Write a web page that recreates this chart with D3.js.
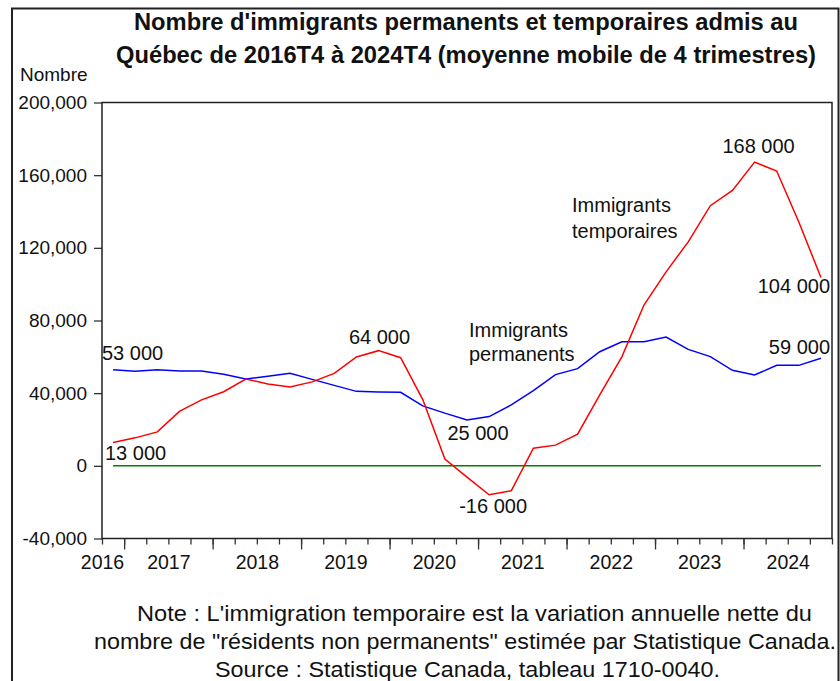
<!DOCTYPE html>
<html>
<head>
<meta charset="utf-8">
<script src="https://cdn.jsdelivr.net/npm/d3@7/dist/d3.min.js"></script>
<style>
  html, body { margin: 0; padding: 0; background: #fff; }
  svg { display: block; font-family: Arial, "Liberation Sans", sans-serif; }
</style>
</head>
<body>
<svg id="chart" width="840" height="681"></svg>
<script>
// ---------- DATA ----------
const quarters = [
  "2016T4",
  "2017T1","2017T2","2017T3","2017T4",
  "2018T1","2018T2","2018T3","2018T4",
  "2019T1","2019T2","2019T3","2019T4",
  "2020T1","2020T2","2020T3","2020T4",
  "2021T1","2021T2","2021T3","2021T4",
  "2022T1","2022T2","2022T3","2022T4",
  "2023T1","2023T2","2023T3","2023T4",
  "2024T1","2024T2","2024T3","2024T4"
];
const permanents = [52900, 52000, 52900, 52200, 52200, 50400, 47800, 49300, 50900, 47600, 44300, 41000, 40700, 40500, 33000, 29000, 25300, 27100, 33500, 41400, 50200, 53500, 62800, 68300, 68300, 70900, 64100, 60100, 52600, 50000, 55300, 55300, 59200];
const temporaires = [12800, 15400, 18700, 30000, 36300, 40800, 47800, 45100, 43400, 46200, 50900, 59900, 63400, 59500, 36500, 3700, -6200, -15900, -13700, 9700, 11400, 17400, 39000, 60000, 88500, 106800, 123300, 143200, 151600, 167200, 162300, 134200, 103700];
const yTicks = [-40000, 0, 40000, 80000, 120000, 160000, 200000];
const yearLabels = ["2016","2017","2018","2019","2020","2021","2022","2023","2024"];
const titleLines = [
  "Nombre d'immigrants permanents et temporaires admis au",
  "Québec de 2016T4 à 2024T4 (moyenne mobile de 4 trimestres)"
];
const yAxisTitle = "Nombre";
const noteLines = [
  "Note : L'immigration temporaire est la variation annuelle nette du",
  "nombre de \"résidents non permanents\" estimée par Statistique Canada.",
  "Source : Statistique Canada, tableau 1710-0040."
];
const valueLabels = ["53 000", "13 000", "64 000", "25 000", "-16 000", "168 000", "104 000", "59 000"];
const seriesNames = [["Immigrants", "permanents"], ["Immigrants", "temporaires"]];

// ---------- LAYOUT ----------
const svg = d3.select("#chart");
const L = 102, R = 832, T = 102.5, B = 538.5;

const x = d3.scalePoint().domain(quarters).range([L, R]).padding(0.5);
const xb = d3.scaleLinear().domain([0, quarters.length]).range([L, R]); // quarter boundaries
const y = d3.scaleLinear().domain([-40000, 200000]).range([B, T]);

const fmt = v => d3.format(",")(v).replace("\u2212", "-");

// outer frame
svg.append("path")
  .attr("d", "M12,690 L12,8.5 L838.5,8.5 L838.5,690")
  .attr("fill", "none").attr("stroke", "#222").attr("stroke-width", 2);

// titles
titleLines.forEach((t, i) => {
  svg.append("text")
    .attr("x", 466).attr("y", [30, 63][i])
    .attr("text-anchor", "middle")
    .attr("font-weight", "bold").attr("font-size", 23)
    .attr("textLength", [664, 700][i]).attr("lengthAdjust", "spacingAndGlyphs")
    .attr("fill", "#111")
    .text(t);
});

svg.append("text").attr("x", 20).attr("y", 81).attr("font-size", 19).attr("fill", "#111").text(yAxisTitle);

// y axis
const yAxis = d3.axisLeft(y).tickValues(yTicks).tickSize(8).tickPadding(7).tickFormat(fmt);
const gy = svg.append("g").attr("transform", `translate(${L},0)`).call(yAxis);
gy.select(".domain").remove();
gy.selectAll(".tick line").attr("stroke", "#333").attr("stroke-width", 1.3);
gy.selectAll(".tick text").attr("font-size", 19).attr("fill", "#111").attr("font-family", "Arial, 'Liberation Sans', sans-serif");

// x axis: minor ticks at every quarter boundary
const bounds = d3.range(0, quarters.length + 1);
const gxMinor = svg.append("g").attr("transform", `translate(0,${B})`)
  .call(d3.axisBottom(xb).tickValues(bounds).tickSize(6).tickFormat(""));
gxMinor.select(".domain").remove();
gxMinor.selectAll(".tick line").attr("stroke", "#333").attr("stroke-width", 1.3);

// major ticks at year starts (Q1)
const yearStarts = quarters.map((q, i) => q.endsWith("T1") ? i : null).filter(v => v !== null);
const gxMajor = svg.append("g").attr("transform", `translate(0,${B})`)
  .call(d3.axisBottom(xb).tickValues(yearStarts).tickSize(11).tickFormat(""));
gxMajor.select(".domain").remove();
gxMajor.selectAll(".tick line").attr("stroke", "#333").attr("stroke-width", 1.3);

// year labels: centred on mid-year boundary (first partial year at its start)
const labelPos = yearLabels.map(yr => {
  const i3 = quarters.indexOf(yr + "T3");
  return i3 >= 0 ? i3 : 0;
});
const gxLab = svg.append("g").attr("transform", `translate(0,${B})`)
  .call(d3.axisBottom(xb).tickValues(labelPos).tickSize(0).tickPadding(17)
    .tickFormat((d, i) => yearLabels[i]));
gxLab.select(".domain").remove();
gxLab.selectAll(".tick text").attr("font-size", 19.5).attr("fill", "#111").attr("font-family", "Arial, 'Liberation Sans', sans-serif");

// zero line
svg.append("line")
  .attr("x1", x(quarters[0])).attr("x2", x(quarters[quarters.length - 1]))
  .attr("y1", y(0)).attr("y2", y(0))
  .attr("stroke", "#008000").attr("stroke-width", 1.5);

const line = d3.line().x((d, i) => x(quarters[i])).y(d => y(d));
svg.append("path").datum(permanents).attr("d", line)
  .attr("fill", "none").attr("stroke", "#0000ff").attr("stroke-width", 1.5);
svg.append("path").datum(temporaires).attr("d", line)
  .attr("fill", "none").attr("stroke", "#ff0000").attr("stroke-width", 1.5);

// plot frame
svg.append("rect").attr("x", L).attr("y", T).attr("width", R - L).attr("height", B - T)
  .attr("fill", "none").attr("stroke", "#222").attr("stroke-width", 1.5);

// value annotations
const ann = [
  { t: valueLabels[0], x: L, y: 360, a: "start" },
  { t: valueLabels[1], x: L + 3, y: 460, a: "start" },
  { t: valueLabels[2], x: x(quarters[12]) + 1, y: 344, a: "middle" },
  { t: valueLabels[3], x: x(quarters[16]) + 11, y: 440, a: "middle" },
  { t: valueLabels[4], x: x(quarters[17]) + 4, y: 513, a: "middle" },
  { t: valueLabels[5], x: x(quarters[29]) + 4, y: 153, a: "middle" },
  { t: valueLabels[6], x: 830, y: 293, a: "end" },
  { t: valueLabels[7], x: 830, y: 354, a: "end" }
];
ann.forEach(d => {
  svg.append("text").attr("x", d.x).attr("y", d.y).attr("text-anchor", d.a)
    .attr("font-size", 20).attr("fill", "#111").text(d.t);
});

// series name labels
const nameLab = [
  { lines: seriesNames[0], x: 469, y: [337, 361] },
  { lines: seriesNames[1], x: 572, y: [212, 238] }
];
nameLab.forEach(d => {
  d.lines.forEach((t, i) => {
    svg.append("text").attr("x", d.x).attr("y", d.y[i]).attr("font-size", 20)
      .attr("fill", "#111").text(t);
  });
});

// notes
noteLines.forEach((t, i) => {
  svg.append("text")
    .attr("x", [474.5, 465, 467.5][i]).attr("y", [621, 649, 677][i])
    .attr("text-anchor", "middle").attr("font-size", 22)
    .attr("textLength", [675, 742, 505][i]).attr("lengthAdjust", "spacingAndGlyphs")
    .attr("fill", "#111")
    .text(t);
});
</script>
</body>
</html>
